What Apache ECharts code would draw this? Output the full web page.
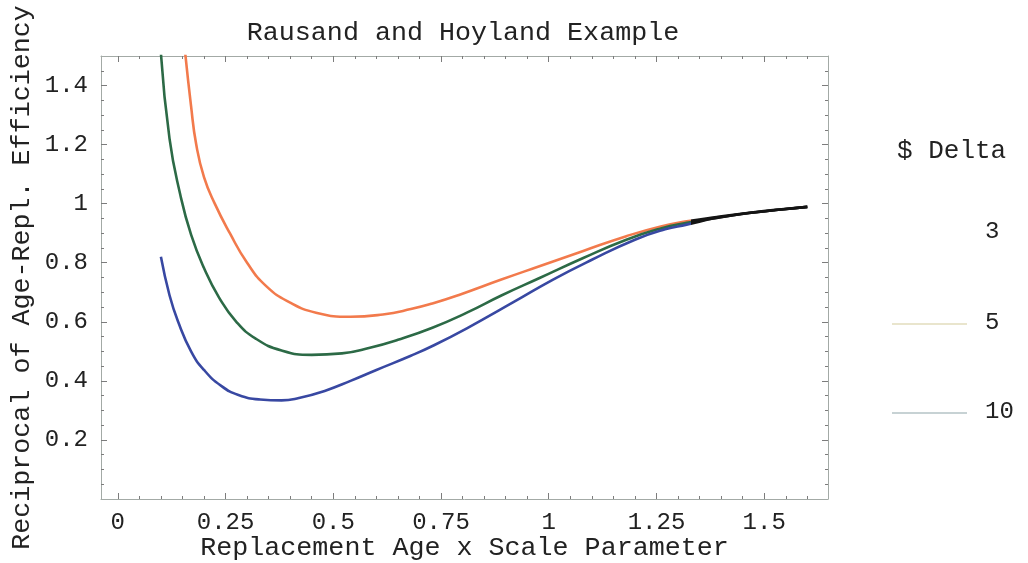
<!DOCTYPE html>
<html>
<head>
<meta charset="utf-8">
<title>Rausand and Hoyland Example</title>
<script src="https://cdn.jsdelivr.net/npm/echarts@6/dist/echarts.min.js"></script>
<style>
  html, body { margin: 0; padding: 0; background: #ffffff; }
  #chart { width: 1028px; height: 563px; }
</style>
</head>
<body>
<div id="chart"></div>
<script>
// Reciprocal of age-replacement efficiency vs. replacement age x scale parameter
const titleText = 'Rausand and Hoyland Example';
const xName = 'Replacement Age x Scale Parameter';
const yName = 'Reciprocal of Age-Repl. Efficiency';
const legendTitle = '$ Delta';
const seriesNames = ['3', '5', '10'];

// Delta = 3 (orange)
const orangeX = [0.155, 0.17, 0.182, 0.20, 0.225, 0.26, 0.30, 0.345, 0.40, 0.46, 0.54, 0.615, 0.68, 0.73, 0.79, 0.89, 0.98, 1.08, 1.18, 1.26, 1.32, 1.39, 1.47, 1.54, 1.60];
const orangeY = [1.53, 1.33, 1.20, 1.09, 1.00, 0.90, 0.80, 0.72, 0.665, 0.631, 0.617, 0.625, 0.643, 0.662, 0.690, 0.743, 0.789, 0.840, 0.890, 0.923, 0.940, 0.955, 0.970, 0.981, 0.989];

// Delta = 5 (green)
const greenX = [0.10, 0.12, 0.145, 0.17, 0.20, 0.235, 0.275, 0.32, 0.38, 0.45, 0.52, 0.585, 0.65, 0.73, 0.81, 0.89, 0.98, 1.08, 1.18, 1.26, 1.32, 1.39, 1.47, 1.54, 1.60];
const greenY = [1.51, 1.22, 1.03, 0.895, 0.782, 0.682, 0.600, 0.543, 0.503, 0.488, 0.493, 0.512, 0.539, 0.580, 0.631, 0.689, 0.749, 0.816, 0.878, 0.916, 0.935, 0.952, 0.969, 0.980, 0.989];

// Delta = 10 (blue)
const blueX = [0.10, 0.12, 0.14, 0.17, 0.20, 0.24, 0.28, 0.33, 0.38, 0.42, 0.48, 0.54, 0.60, 0.68, 0.73, 0.81, 0.92, 1.01, 1.10, 1.20, 1.27, 1.32, 1.39, 1.47, 1.54, 1.60];
const blueY = [0.82, 0.69, 0.60, 0.50, 0.437, 0.383, 0.352, 0.337, 0.334, 0.342, 0.366, 0.400, 0.437, 0.485, 0.518, 0.578, 0.668, 0.743, 0.810, 0.878, 0.913, 0.929, 0.952, 0.969, 0.980, 0.989];

// Tick positions
const xMajorTicks = [0, 0.25, 0.5, 0.75, 1, 1.25, 1.5];
const yMajorTicks = [0.2, 0.4, 0.6, 0.8, 1, 1.2, 1.4];

function minorTicks(from, to, step, majors) {
  const out = [];
  for (let i = Math.round(from / step); i * step <= to + 1e-9; i++) {
    const v = +(i * step).toFixed(4);
    if (!majors.some(m => Math.abs(m - v) < 1e-6)) out.push(v);
  }
  return out;
}
const xMinorTicks = minorTicks(0.05, 1.6, 0.05, xMajorTicks);
const yMinorTicks = minorTicks(0.05, 1.45, 0.05, yMajorTicks.concat([0]));

const lineColors = ['#f27a4c', '#2c6a46', '#3848a2'];
const mergeColor = '#141414';
const mergeFrom = 1.33;

const FONT = '"Liberation Mono", "DejaVu Sans Mono", monospace';
const frameColor = '#a3aaa6';
const tickColor = '#7c7c7c';
const bigFont = 26.7;

const xRange = { min: -0.039, max: 1.648 };
const yRange = { min: 0, max: 1.5 };

const gridBox = { left: 101, top: 56, width: 727, height: 443 };

function toPairs(xs, ys) { return xs.map((x, i) => [x, ys[i]]); }

const chart = echarts.init(document.getElementById('chart'), null, { renderer: 'canvas' });

function majorX(position, withLabels, gridIndex) {
  return {
    type: 'value', gridIndex, position, ...xRange,
    axisLine: { show: true, onZero: false, lineStyle: { color: frameColor, width: 1 } },
    axisTick: { show: true, inside: true, length: 6, customValues: xMajorTicks, lineStyle: { color: tickColor } },
    axisLabel: withLabels ? {
      show: true, customValues: xMajorTicks, margin: 12,
      fontFamily: FONT, fontSize: 24, color: '#222'
    } : { show: false, customValues: xMajorTicks },
    splitLine: { show: false },
    name: withLabels ? xName : '',
    nameLocation: 'middle', nameGap: 35, nameMoveOverlap: false,
    nameTextStyle: { fontFamily: FONT, fontSize: bigFont, color: '#222' }
  };
}
function majorY(position, withLabels, gridIndex) {
  return {
    type: 'value', gridIndex, position, ...yRange,
    axisLine: { show: true, onZero: false, lineStyle: { color: frameColor, width: 1 } },
    axisTick: { show: true, inside: true, length: 6, customValues: yMajorTicks, lineStyle: { color: tickColor } },
    axisLabel: withLabels ? {
      show: true, customValues: yMajorTicks, margin: 13,
      fontFamily: FONT, fontSize: 24, color: '#222'
    } : { show: false, customValues: yMajorTicks },
    splitLine: { show: false },
    name: withLabels ? yName : '',
    nameLocation: 'middle', nameGap: 66, nameMoveOverlap: false,
    nameTextStyle: { fontFamily: FONT, fontSize: bigFont, color: '#222' }
  };
}
function minorAxis(position, gridIndex, values, range) {
  return {
    type: 'value', gridIndex, position, ...range,
    axisLine: { show: false, onZero: false },
    axisTick: { show: true, inside: true, length: 3, customValues: values, lineStyle: { color: tickColor } },
    axisLabel: { show: false, customValues: values },
    splitLine: { show: false }
  };
}

function lineSeries(i, data) {
  return {
    name: seriesNames[i], type: 'line', data,
    xAxisIndex: 0, yAxisIndex: 0,
    showSymbol: false, smooth: 0.5, clip: true,
    lineStyle: { width: 2.6 },
    z: 3 + i
  };
}

chart.setOption({
  animation: false,
  backgroundColor: '#ffffff',
  title: {
    text: titleText, left: 458, top: 14, textAlign: 'center',
    textStyle: { fontFamily: FONT, fontSize: bigFont, fontWeight: 'normal', color: '#222' }
  },
  grid: [
    Object.assign({ containLabel: false, outerBoundsMode: 'none' }, gridBox),
    Object.assign({ containLabel: false, outerBoundsMode: 'none' }, gridBox)
  ],
  xAxis: [
    majorX('bottom', true, 0),
    majorX('top', false, 0),
    minorAxis('bottom', 1, xMinorTicks, xRange),
    minorAxis('top', 1, xMinorTicks, xRange)
  ],
  yAxis: [
    majorY('left', true, 0),
    majorY('right', false, 0),
    minorAxis('left', 1, yMinorTicks, yRange),
    minorAxis('right', 1, yMinorTicks, yRange)
  ],
  // The three curves coincide near the right end and show as one dark line there
  visualMap: [0, 1, 2].map(i => ({
    type: 'piecewise', show: false, seriesIndex: i, dimension: 0,
    pieces: [
      { gte: 0, lt: mergeFrom, color: lineColors[i] },
      { gte: mergeFrom, lte: 2, color: mergeColor }
    ]
  })),
  series: [
    lineSeries(0, toPairs(orangeX, orangeY)),
    lineSeries(1, toPairs(greenX, greenY)),
    lineSeries(2, toPairs(blueX, blueY))
  ],
  graphic: [
    { type: 'text', left: 897, top: 138,
      style: { text: legendTitle, fontFamily: FONT, fontSize: 26, fill: '#222' } },
    { type: 'text', left: 985, top: 220,
      style: { text: seriesNames[0], fontFamily: FONT, fontSize: 24, fill: '#222' } },
    { type: 'line', shape: { x1: 892, y1: 324, x2: 967, y2: 324 },
      style: { stroke: '#e2dcbc', lineWidth: 1.5 } },
    { type: 'text', left: 985, top: 311,
      style: { text: seriesNames[1], fontFamily: FONT, fontSize: 24, fill: '#222' } },
    { type: 'line', shape: { x1: 892, y1: 413, x2: 967, y2: 413 },
      style: { stroke: '#b4c3c6', lineWidth: 1.5 } },
    { type: 'text', left: 985, top: 400,
      style: { text: seriesNames[2], fontFamily: FONT, fontSize: 24, fill: '#222' } }
  ]
});
</script>
</body>
</html>
